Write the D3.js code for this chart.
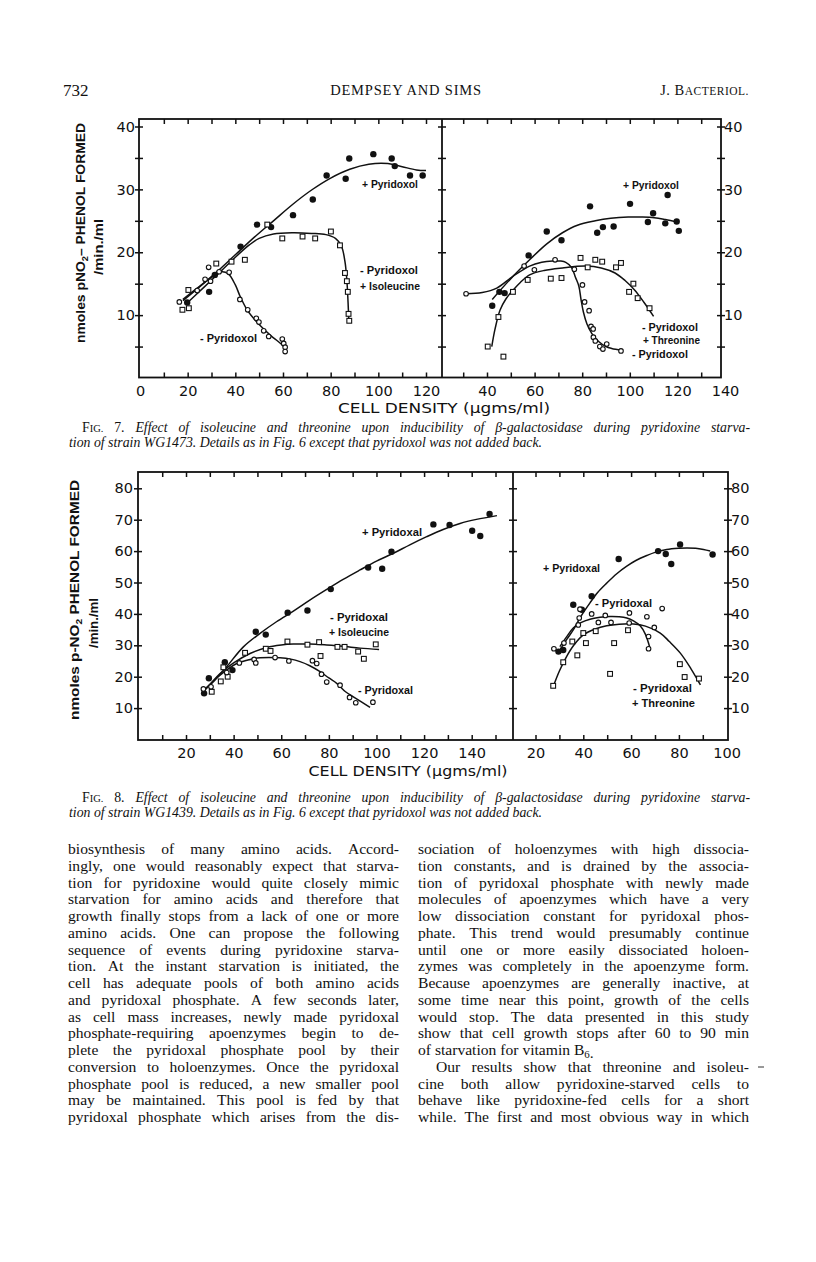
<!DOCTYPE html>
<html><head><meta charset="utf-8">
<script src="https://cdn.jsdelivr.net/npm/d3@7"></script>
<style>body{margin:0;background:#fff}svg{display:block}</style>
</head><body>
<svg id="page" width="816" height="1262"></svg>
<script>
// ---------------- DATA ----------------
// Fig. 7 left panel (strain WG1473, isoleucine)
const f7L_fed   = [[19.8,12.0],[29.0,13.7],[31.4,16.4],[42.2,20.9],[49.1,24.4],[55.0,24.0],[64.2,25.9],[72.5,28.4],[78.3,32.2],[86.3,31.7],[87.8,34.9],[97.9,35.6],[105.6,34.9],[106.9,33.7],[113.3,32.2],[118.6,32.2]];
const f7L_minus = [[16.5,12.1],[24.0,13.9],[27.3,15.7],[28.8,17.6],[29.6,15.4],[33.2,16.9],[37.4,16.8],[41.9,12.5],[45.2,10.85],[48.8,9.5],[49.9,8.9],[51.9,7.5],[54.0,6.6],[59.7,6.2],[60.3,5.5],[60.9,4.9],[60.9,4.2]];
const f7L_ile   = [[17.8,10.85],[20.5,11.1],[20.3,14.0],[32.0,18.2],[38.4,18.5],[44.0,18.8],[53.4,24.4],[59.7,22.2],[68.2,22.5],[73.5,22.2],[80.1,23.3],[83.9,21.1],[86.0,16.7],[86.8,15.4],[87.2,13.7],[87.5,10.2],[87.8,9.1]];
const f7L_fedFit   = [[18,12.3],[25,14.5],[32,16.8],[40,19.6],[48,22.4],[56,25],[64,27.6],[72,29.9],[80,31.8],[88,33.2],[96,34],[104,34.1],[110,33.6],[116,33.1],[120,33]];
const f7L_ileFit   = [[20,12],[27,14.5],[34,17],[40,19.2],[46,21.2],[50,22.2],[56,22.9],[64,23.1],[72,23],[78,22.8],[82,22.2],[84.5,21],[86,18.5],[86.8,15.5],[87.3,12],[87.6,9.3]];
const f7L_minusFit = [[18,12.5],[24,14.3],[30,16],[34,16.9],[37,16.6],[40,14.8],[42,13],[45,10.8],[50,8.5],[55,6.7],[58,5.8],[61,4.8]];

// Fig. 7 right panel (threonine)
const f7R_fed   = [[42.2,11.5],[45.2,13.7],[47.4,13.5],[57.5,19.5],[65.1,23.3],[71.3,21.9],[83.3,27.3],[86.3,23.1],[88.7,24.0],[93.2,24.1],[100.1,27.7],[107.6,24.8],[109.8,26.2],[114.9,24.6],[115.9,29.1],[119.7,24.9],[120.6,23.4]];
const f7R_minus = [[31.2,13.4],[55.6,17.8],[59.9,17.2],[68.6,18.8],[76.7,17.3],[80.1,14.8],[81.0,12.1],[82.9,10.7],[83.7,8.2],[84.6,7.8],[84.7,6.5],[85.5,5.9],[87.4,5.0],[88.7,4.6],[90.3,5.4],[96.3,4.3]];
const f7R_thr   = [[40.3,5.0],[46.9,3.4],[44.8,9.7],[50.9,13.7],[57.1,15.6],[66.8,15.8],[71.3,15.9],[79.3,19.1],[82.3,17.6],[85.5,18.8],[88.4,18.5],[94.2,17.6],[96.3,18.3],[99.7,13.7],[101.5,15.0],[103.3,12.7],[108.3,11.1]];
const f7R_fedFit   = [[42.2,12.5],[50,15.8],[57.9,18.8],[65,21.3],[71.7,23.1],[78,24.3],[85.5,25],[92,25.4],[99.3,25.6],[105,25.6],[110.3,25.5],[115,25.2],[120,24.8]];
const f7R_minusFit = [[31.2,13.4],[38,13.6],[44.1,14.3],[51,16.2],[57.9,17.8],[63,18.4],[67.6,18.6],[71,18.6],[73.1,18.4],[75.5,17.6],[77.2,16],[78.6,14.6],[79.5,12.5],[80.5,10.5],[82,8.6],[84,7.1],[86.9,5.8],[90,5],[92.4,4.7],[96.6,4.4]];
const f7R_thrFit   = [[42,5],[43.5,8],[45.5,10.8],[48,12.6],[51,14],[54,15.2],[57.9,16.4],[64,17.1],[71.7,17.5],[81.4,17.8],[88,17.5],[93.8,16.7],[98,15.5],[102,14],[106,12],[110,9.8]];

// Fig. 8 left panel (strain WG1439, isoleucine)
const f8L_fed   = [[27.6,14.7],[29.6,19.5],[36.3,24.6],[39.5,22.1],[49.3,34.3],[53.5,33.4],[62.7,40.4],[71.0,41.1],[80.8,47.9],[96.5,54.8],[102.4,54.4],[106.3,59.8],[123.9,68.5],[130.7,68.3],[140.2,66.5],[143.6,64.8],[147.5,71.8]];
const f8L_ile   = [[30.8,15.2],[34.6,18.5],[35.7,23.0],[37.5,20.0],[44.8,27.6],[53.5,28.9],[55.5,28.2],[62.6,31.2],[71.0,30.2],[75.9,31.0],[76.5,26.6],[83.6,29.5],[86.6,29.5],[92.3,28.0],[94.7,25.7],[99.7,30.3]];
const f8L_minus = [[27.3,16.1],[30.5,16.8],[37.1,21.3],[42.4,24.4],[48.6,25.5],[49.3,24.4],[57.4,26.1],[63.2,25.0],[73.1,25.1],[74.9,24.2],[76.9,20.8],[79.1,18.3],[84.7,17.3],[88.7,13.4],[91.3,11.7],[98.5,11.9]];
const f8L_fedFit   = [[26.6,14.9],[32,18.8],[37.1,23.2],[44.1,29.5],[51.1,33.8],[58,37.5],[65.1,40.9],[72,44.4],[79.1,47.8],[86,51],[93.1,54.0],[100,56.8],[107.1,59.3],[114,62],[121.1,64.6],[128,66.9],[135.1,68.8],[142,70.1],[150.6,71.3]];
const f8L_ileFit   = [[27,15.5],[30,17.5],[34.3,21],[40,24.4],[46.9,27.4],[53.9,29.3],[60,30.1],[65.1,30.4],[72,30.4],[79.1,30.1],[86,29.7],[93.1,29.1],[101.1,28.7]];
const f8L_minusFit = [[26.6,14.7],[30,17.5],[34.3,20.5],[41.3,24.2],[46,25.3],[51.1,26.0],[59.5,26.0],[64,25.6],[67.9,24.8],[72,23.5],[76.3,21.6],[80,19.6],[83.3,17.9],[87,15.2],[90.3,13.6],[94,11.8],[97.3,10.2]];

// Fig. 8 right panel (threonine)
const f8R_fed   = [[29.6,28.0],[31.6,28.5],[35.8,42.9],[39.4,41.3],[43.5,45.6],[54.8,57.5],[71.3,60.0],[74.5,59.1],[76.8,55.9],[80.5,62.1],[94.1,58.9]];
const f8R_minus = [[27.7,28.9],[31.9,30.7],[38.3,38.7],[38.6,41.5],[37.9,36.5],[43.5,40.0],[46.3,37.3],[49.2,39.5],[51.6,37.3],[59.3,40.3],[59.2,37.1],[66.6,39.1],[67.3,32.8],[67.3,28.9],[69.7,35.7],[73.0,41.7]];
const f8R_thr   = [[27.4,17.1],[31.6,24.6],[35.4,31.2],[37.5,26.8],[40.0,33.9],[41.1,30.7],[45.2,34.5],[51.2,20.9],[52.9,30.7],[58.7,34.8],[80.4,24.0],[82.4,19.9],[88.4,19.4]];
const f8R_fedFit   = [[30.2,28.5],[33,31.8],[35.8,34.9],[39,39.2],[42.8,43.5],[46,46.8],[49.8,49.8],[54,52.8],[58.2,55.2],[62,57],[66.6,58.6],[70,59.6],[74.9,60.5],[80,60.9],[83.3,61.0],[87,60.9],[90.3,60.5],[93.1,60.0]];
const f8R_minusFit = [[30.2,29.6],[33,32.7],[35.8,35.5],[39,37.2],[42.8,38.3],[47,38.9],[51.2,39.2],[55,39.1],[58.2,38.7],[61,37.8],[63.8,36.2],[66,33.5],[67.9,29.1]];
const f8R_thrFit   = [[27.4,16.8],[30,21.8],[33,26.4],[36,30],[40,33.3],[45,35.2],[49.8,36.2],[55,36.7],[61,36.8],[66,36.1],[72.2,33.9],[76,31.2],[80.6,27.5],[85,22.6],[89,17.4]];

// Tick labels
const f7_yLabels  = [10,20,30,40];
const f7_yTicks   = [5,10,15,20,25,30,35,40];
const f7L_xLabels = [0,20,40,60,80,100,120];
const f7R_xLabels = [40,60,80,100,120,140];
const f7L_xTicks  = [10,20,30,40,50,60,70,80,90,100,110,120];
const f7R_xTicks  = [30,40,50,60,70,80,90,100,110,120,130];
const f8_yLabels  = [10,20,30,40,50,60,70,80];
const f8L_xLabels = [20,40,60,80,100,120,140];
const f8R_xLabels = [20,40,60,80,100];
const f8L_xTicks  = [10,20,30,40,50,60,70,80,90,100,110,120,130,140,150];
const f8R_xTicks  = [20,30,40,50,60,70,80,90];

// Texts
const headerLeft = "732", headerMid = "DEMPSEY AND SIMS";
const f7_yTitle = ["nmoles pNO", "2", "– PHENOL FORMED"];
const f8_yTitle = ["nmoles p-NO", "2", " PHENOL FORMED"];
const yTitle2 = "/min./ml";
const xTitle = "CELL DENSITY (µgms/ml)";
const f7_labels = [["+ Pyridoxol",362,188,56],["- Pyridoxol",360,274,58],["+ Isoleucine",360,290,60],["- Pyridoxol",200,342,57],
                   ["+ Pyridoxol",623,189,56],["- Pyridoxol",642,331,56],["+ Threonine",643,344,57],["- Pyridoxol",632,358,56]];
const f8_labels = [["+ Pyridoxal",362,536,60],["- Pyridoxal",330,621,58],["+ Isoleucine",329,636,60],["- Pyridoxal",358,694,55],
                   ["+ Pyridoxal",543,572,57],["- Pyridoxal",595,607,57],["- Pyridoxal",633,692,59],["+ Threonine",632,707,63]];
const cap7 = ["{rm:F}{sc:IG.} {rm:7.} Effect of isoleucine and threonine upon inducibility of β-galactosidase during pyridoxine starva-",
              "tion of strain WG1473. Details as in Fig. 6 except that pyridoxol was not added back."];
const cap8 = ["{rm:F}{sc:IG.} {rm:8.} Effect of isoleucine and threonine upon inducibility of β-galactosidase during pyridoxine starva-",
              "tion of strain WG1439. Details as in Fig. 6 except that pyridoxol was not added back."];
const bodyLeft = [
 "biosynthesis of many amino acids. Accord-",
 "ingly, one would reasonably expect that starva-",
 "tion for pyridoxine would quite closely mimic",
 "starvation for amino acids and therefore that",
 "growth finally stops from a lack of one or more",
 "amino acids. One can propose the following",
 "sequence of events during pyridoxine starva-",
 "tion. At the instant starvation is initiated, the",
 "cell has adequate pools of both amino acids",
 "and pyridoxal phosphate. A few seconds later,",
 "as cell mass increases, newly made pyridoxal",
 "phosphate-requiring apoenzymes begin to de-",
 "plete the pyridoxal phosphate pool by their",
 "conversion to holoenzymes. Once the pyridoxal",
 "phosphate pool is reduced, a new smaller pool",
 "may be maintained. This pool is fed by that",
 "pyridoxal phosphate which arises from the dis-"];
const bodyRight = [
 "sociation of holoenzymes with high dissocia-",
 "tion constants, and is drained by the associa-",
 "tion of pyridoxal phosphate with newly made",
 "molecules of apoenzymes which have a very",
 "low dissociation constant for pyridoxal phos-",
 "phate. This trend would presumably continue",
 "until one or more easily dissociated holoen-",
 "zymes was completely in the apoenzyme form.",
 "Because apoenzymes are generally inactive, at",
 "some time near this point, growth of the cells",
 "would stop. The data presented in this study",
 "show that cell growth stops after 60 to 90 min",
 "of starvation for vitamin B{sub:6}.",
 "Our results show that threonine and isoleu-",
 "cine both allow pyridoxine-starved cells to",
 "behave like pyridoxine-fed cells for a short",
 "while. The first and most obvious way in which"];

// ---------------- DRAWING ----------------
const SANS = "'DejaVu Sans', sans-serif";
const LAB = "'Liberation Sans', Arial, sans-serif";
const SERIF = "'Liberation Serif', 'Times New Roman', serif";
const svg = d3.select('#page');
svg.append('rect').attr('width',816).attr('height',1262).attr('fill','#fff');

function richText(sel, str) {
  const re = /\{(sc|sub|rm):([^}]*)\}/g; let last = 0, m;
  while ((m = re.exec(str)) !== null) {
    if (m.index > last) sel.append('tspan').text(str.slice(last, m.index));
    const t = sel.append('tspan').text(m[2]);
    if (m[1] === 'sc') t.attr('font-size','0.76em').attr('font-style','normal');
    if (m[1] === 'rm') t.attr('font-style','normal');
    if (m[1] === 'sub') { t.attr('font-size','0.7em').attr('dy', 3); sel.append('tspan').attr('dy',-3).text(''); }
    last = re.lastIndex;
  }
  if (last < str.length) sel.append('tspan').text(str.slice(last));
}
function textLine(parent, str, x0, x1, y, justify, attrs) {
  const words = str.split(' ');
  const els = words.map(w => { const t = parent.append('text').attr('y', y); for (const k in attrs) t.attr(k, attrs[k]); richText(t, w); return t; });
  let widths = els.map(e => e.node().getComputedTextLength());
  const total = d3.sum(widths), gaps = words.length - 1;
  const minSp = attrs['font-size'] * 0.2;
  let space = attrs['font-size'] * 0.25;
  if (justify && gaps > 0) {
    space = (x1 - x0 - total) / gaps;
    if (space < minSp) {
      const s = (x1 - x0 - gaps * minSp) / total;
      widths = widths.map(w => w * s);
      els.forEach((e, i) => e.attr('textLength', widths[i]).attr('lengthAdjust', 'spacingAndGlyphs'));
      space = minSp;
    }
  }
  let x = x0;
  els.forEach((e, i) => { e.attr('x', x); x += widths[i] + space; });
}

// Header
const hdr = svg.append('g').attr('font-family', SERIF).attr('fill','#111');
hdr.append('text').attr('x',63).attr('y',96).attr('font-size',17).text(headerLeft);
hdr.append('text').attr('x',406).attr('y',95).attr('font-size',14.5).attr('text-anchor','middle').attr('letter-spacing',0.8).text(headerMid);
const jb = hdr.append('text').attr('x',749).attr('y',95).attr('font-size',14.5).attr('text-anchor','end').attr('letter-spacing',0.5);
jb.append('tspan').text('J. B'); jb.append('tspan').attr('font-size',11.5).text('ACTERIOL.');

function drawPanelFrame(g, box) {
  g.append('rect').attr('x',box.l).attr('y',box.t).attr('width',box.r-box.l).attr('height',box.b-box.t)
   .attr('fill','none').attr('stroke','#111').attr('stroke-width',1.8);
  g.append('line').attr('x1',box.d).attr('x2',box.d).attr('y1',box.t).attr('y2',box.b).attr('stroke','#111').attr('stroke-width',1.8);
}
function axisG(g, gen, tx, ty) {
  const a = g.append('g').attr('transform',`translate(${tx},${ty})`).call(gen);
  a.select('.domain').remove();
  a.selectAll('line').attr('stroke','#111').attr('stroke-width',1.5);
  a.selectAll('text').attr('font-family',SANS).attr('font-size',14.5).attr('fill','#111');
  return a;
}
function yTicks(g, y, vals, x) {
  axisG(g, d3.axisLeft(y).tickValues(vals).tickSize(4).tickFormat(''), x, 0);
  axisG(g, d3.axisRight(y).tickValues(vals).tickSize(4).tickFormat(''), x, 0);
}
const lineGen = (x, y) => d3.line().x(d => x(d[0])).y(d => y(d[1])).curve(d3.curveCatmullRom.alpha(0.5));
function drawCurve(g, x, y, data) {
  g.append('path').datum(data).attr('d', lineGen(x,y)).attr('fill','none').attr('stroke','#111').attr('stroke-width',1.5);
}
function drawFilled(g, x, y, data) {
  g.selectAll(null).data(data).join('circle').attr('cx',d=>x(d[0])).attr('cy',d=>y(d[1])).attr('r',3.2).attr('fill','#111');
}
function drawOpen(g, x, y, data) {
  g.selectAll(null).data(data).join('circle').attr('cx',d=>x(d[0])).attr('cy',d=>y(d[1])).attr('r',2.3)
   .attr('fill','#fff').attr('stroke','#111').attr('stroke-width',1.1);
}
function drawSquares(g, x, y, data) {
  g.selectAll(null).data(data).join('rect').attr('x',d=>x(d[0])-2.4).attr('y',d=>y(d[1])-2.4).attr('width',4.8).attr('height',4.8)
   .attr('fill','#fff').attr('stroke','#111').attr('stroke-width',1.1);
}
function seriesLabels(g, labels) {
  labels.forEach(([t,x,y,w]) => g.append('text').attr('x',x).attr('y',y).attr('font-family',LAB).attr('font-weight','bold')
    .attr('font-size',10.5).attr('fill','#111').attr('textLength',w).attr('lengthAdjust','spacingAndGlyphs').text(t));
}
function yTitle(g, parts, x, cy, len, x2, cy2, len2) {
  const t = g.append('text').attr('transform',`translate(${x},${cy}) rotate(-90)`).attr('text-anchor','middle')
    .attr('font-family',LAB).attr('font-weight','bold').attr('font-size',13.5).attr('fill','#111')
    .attr('textLength',len).attr('lengthAdjust','spacingAndGlyphs');
  t.append('tspan').text(parts[0]); t.append('tspan').attr('font-size',9).attr('dy',3).text(parts[1]);
  t.append('tspan').attr('dy',-3).text(parts[2]);
  g.append('text').attr('transform',`translate(${x2},${cy2}) rotate(-90)`).attr('text-anchor','middle')
    .attr('font-family',LAB).attr('font-weight','bold').attr('font-size',13.5).attr('fill','#111')
    .attr('textLength',len2).attr('lengthAdjust','spacingAndGlyphs').text(yTitle2);
}
function xTitleText(g, x, y, len) {
  g.append('text').attr('x',x).attr('y',y).attr('text-anchor','middle').attr('font-family',SANS).attr('font-size',14)
   .attr('fill','#111').attr('textLength',len).attr('lengthAdjust','spacingAndGlyphs').text(xTitle);
}

// ---- Fig. 7 ----
{
  const box = {l:139, t:119, b:377.5, d:442, r:721};
  const g = svg.append('g');
  const y = d3.scaleLinear().domain([0,40]).range([378,126.5]);
  const xL = d3.scaleLinear().domain([0,120]).range([140,426]);
  const xR = d3.scaleLinear().domain([40,140]).range([487,725]);
  drawPanelFrame(g, box);
  axisG(g, d3.axisBottom(xL).tickValues(f7L_xTicks).tickSize(-5).tickFormat(''), 0, box.b);
  axisG(g, d3.axisTop(xL).tickValues(f7L_xTicks).tickSize(-5).tickFormat(''), 0, box.t);
  axisG(g, d3.axisBottom(xR).tickValues(f7R_xTicks).tickSize(-5).tickFormat(''), 0, box.b);
  axisG(g, d3.axisTop(xR).tickValues(f7R_xTicks).tickSize(-5).tickFormat(''), 0, box.t);
  axisG(g, d3.axisBottom(xL).tickValues(f7L_xLabels).tickSize(0).tickPadding(8), 0, box.b);
  axisG(g, d3.axisBottom(xR).tickValues(f7R_xLabels).tickSize(0).tickPadding(8), 0, box.b);
  yTicks(g, y, f7_yTicks, box.l); yTicks(g, y, f7_yTicks, box.d); yTicks(g, y, f7_yTicks, box.r);
  axisG(g, d3.axisLeft(y).tickValues(f7_yLabels).tickSize(0).tickPadding(4), box.l, 0);
  axisG(g, d3.axisRight(y).tickValues(f7_yLabels).tickSize(0).tickPadding(3), box.r, 0);
  drawCurve(g, xL, y, f7L_fedFit); drawCurve(g, xL, y, f7L_ileFit); drawCurve(g, xL, y, f7L_minusFit);
  drawCurve(g, xR, y, f7R_fedFit); drawCurve(g, xR, y, f7R_thrFit); drawCurve(g, xR, y, f7R_minusFit);
  drawFilled(g, xL, y, f7L_fed); drawOpen(g, xL, y, f7L_minus); drawSquares(g, xL, y, f7L_ile);
  drawFilled(g, xR, y, f7R_fed); drawOpen(g, xR, y, f7R_minus); drawSquares(g, xR, y, f7R_thr);
  seriesLabels(g, f7_labels);
  yTitle(g, f7_yTitle, 85, 233, 220, 103, 247, 56);
  xTitleText(g, 444, 413, 212);
}
// ---- Fig. 8 ----
{
  const box = {l:138, t:472, b:740, d:513, r:728};
  const g = svg.append('g');
  const y = d3.scaleLinear().domain([0,80]).range([739.5,488.3]);
  const xL = d3.scaleLinear().domain([0,140]).range([138.4,471.7]);
  const xR = d3.scaleLinear().domain([20,100]).range([535.5,726.7]);
  drawPanelFrame(g, box);
  axisG(g, d3.axisBottom(xL).tickValues(f8L_xTicks).tickSize(-5).tickFormat(''), 0, box.b);
  axisG(g, d3.axisTop(xL).tickValues(f8L_xTicks).tickSize(-5).tickFormat(''), 0, box.t);
  axisG(g, d3.axisBottom(xR).tickValues(f8R_xTicks).tickSize(-5).tickFormat(''), 0, box.b);
  axisG(g, d3.axisTop(xR).tickValues(f8R_xTicks).tickSize(-5).tickFormat(''), 0, box.t);
  axisG(g, d3.axisBottom(xL).tickValues(f8L_xLabels).tickSize(0).tickPadding(8), 0, box.b);
  axisG(g, d3.axisBottom(xR).tickValues(f8R_xLabels).tickSize(0).tickPadding(8), 0, box.b);
  yTicks(g, y, f8_yLabels, box.l); yTicks(g, y, f8_yLabels, box.d); yTicks(g, y, f8_yLabels, box.r);
  axisG(g, d3.axisLeft(y).tickValues(f8_yLabels).tickSize(0).tickPadding(5), box.l, 0);
  axisG(g, d3.axisRight(y).tickValues(f8_yLabels).tickSize(0).tickPadding(3), box.r, 0);
  drawCurve(g, xL, y, f8L_fedFit); drawCurve(g, xL, y, f8L_ileFit); drawCurve(g, xL, y, f8L_minusFit);
  drawCurve(g, xR, y, f8R_fedFit); drawCurve(g, xR, y, f8R_thrFit); drawCurve(g, xR, y, f8R_minusFit);
  drawFilled(g, xL, y, f8L_fed); drawSquares(g, xL, y, f8L_ile); drawOpen(g, xL, y, f8L_minus);
  drawFilled(g, xR, y, f8R_fed); drawOpen(g, xR, y, f8R_minus); drawSquares(g, xR, y, f8R_thr);
  seriesLabels(g, f8_labels);
  yTitle(g, f8_yTitle, 79, 600, 240, 98, 623, 50);
  xTitleText(g, 408, 776, 199);
}

// Captions
const capAttrs = {'font-family': SERIF, 'font-style':'italic', 'font-size':13.8, fill:'#111'};
const capG = svg.append('g');
textLine(capG, cap7[0], 82, 750, 432, true, capAttrs);
textLine(capG, cap7[1], 69, 750, 447, false, capAttrs);
textLine(capG, cap8[0], 82, 750, 802, true, capAttrs);
textLine(capG, cap8[1], 69, 750, 817, false, capAttrs);

// Body text
const bodyAttrs = {'font-family': SERIF, 'font-size':15.6, fill:'#111'};
const bodyG = svg.append('g');
const lineY = i => 854 + i * 16.75;
bodyLeft.forEach((s, i) => textLine(bodyG, s, 68, 399, lineY(i), true, bodyAttrs));
bodyRight.forEach((s, i) => {
  const indent = i === 13 ? 18 : 0;
  textLine(bodyG, s, 418 + indent, 749, lineY(i), i !== 12, bodyAttrs);
});
bodyG.append('line').attr('x1',758).attr('x2',764).attr('y1',1067).attr('y2',1067).attr('stroke','#333').attr('stroke-width',1);
</script>
</body></html>
